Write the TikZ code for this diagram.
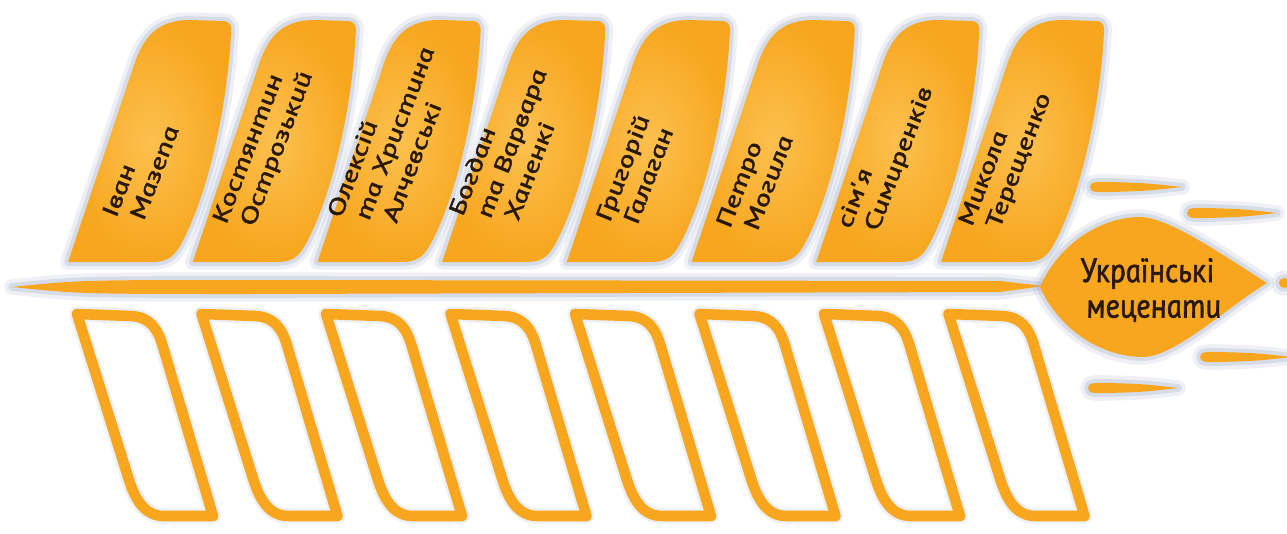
\documentclass[tikz,border=0pt]{standalone}
\usepackage{fontspec}
\newfontfamily\leaffont{PT Sans}[ItalicFeatures={FakeBold=2}]
\usepackage{tikz}
\usetikzlibrary{positioning}
\definecolor{leaforange}{RGB}{247,166,30}
\definecolor{leaflight}{RGB}{252,192,78}
\definecolor{glowblue}{RGB}{160,172,200}
\definecolor{inkbrown}{RGB}{40,25,10}

\begin{document}
\begin{tikzpicture}[x=0.025cm, y=-0.025cm,
  glow/.style={preaction={draw=glowblue, line width=11pt, opacity=.18, line join=round},
               preaction={draw=glowblue, line width=5.5pt, opacity=.3, line join=round}},
  topleaf/.style={glow, inner color=leaflight, outer color=leaforange},
  lowleaf/.style={preaction={fill=white}, glow, draw=leaforange, line width=7.5pt, line join=round},
  spark/.style={glow, fill=leaforange},
  leaftext/.style={align=left, inner sep=0pt, text=inkbrown, rotate=69, xscale=1.4, xslant=-0.2,
                   font=\leaffont\itshape\fontsize{16}{19}\selectfont},
  hubtext/.style={align=center, inner sep=0pt, text=inkbrown, xscale=1.1, yscale=1.2, xslant=-0.2,
                  font=\leaffont\itshape\fontsize{20}{21}\selectfont},
]
\useasboundingbox (0,0) rectangle (1287,533);

% Upper leaves
\foreach \i in {0,...,7}{
  \begin{scope}[shift={(\i*124.7,0)}]
    \path[topleaf] (68,262) -- (135,62) .. controls (145,34) and (160,20) .. (190,20)
      -- (224,21) .. controls (231,22) and (232,27) .. (231,34)
      .. controls (227,110) and (207,198) .. (180,246)
      .. controls (173,258) and (166,262) .. (152,262) -- cycle;
  \end{scope}
}

% Lower leaves
\foreach \i in {0,...,7}{
  \begin{scope}[shift={(\i*124.5,0)}]
    \path[lowleaf] (77,314) -- (131,316) .. controls (150,317) and (158,329) .. (163,347)
      -- (213,516) -- (164,516) .. controls (146,516) and (136,502) .. (129,480) -- cycle;
  \end{scope}
}

% Stem
\path[spark] (12,287) .. controls (80,280) .. (250,280) -- (1000,281) -- (1044,286)
  -- (1000,292) -- (250,294) .. controls (80,294) .. (12,287) -- cycle;

% Hub
\path[spark] (1040,287) .. controls (1058,245) and (1100,217) .. (1140,217)
  .. controls (1170,217) and (1230,260) .. (1267,283)
  .. controls (1230,305) and (1175,357) .. (1143,357)
  .. controls (1100,357) and (1058,328) .. (1040,287) -- cycle;

% Sparks
\foreach \xa/\xb/\y in {1090/1182/187, 1187/1277/213, 1200/1292/357, 1088/1178/388}{
  \path[spark] (\xa,\y) .. controls (\xa,\y-6) and (\xa+8,\y-5) .. (\xa+20,\y-5)
    .. controls (\xa+55,\y-4) .. (\xb,\y) .. controls (\xa+55,\y+4) .. (\xa+20,\y+5)
    .. controls (\xa+8,\y+5) and (\xa,\y+6) .. (\xa,\y) -- cycle;
}
\path[spark] (1284,283) circle[radius=5];

% Names
\node[leaftext] (mazepa) at (140,172) {Іван\\Мазепа};
\node[leaftext] (ostrozkyi) at (264,148) {Костянтин\\Острозький};
\node[leaftext] (alchevski) at (394,134) {Олексій\\та Христина\\Алчевські};
\node[leaftext] (khanenki) at (511,144) {Богдан\\та Варвара\\Ханенкі};
\node[leaftext] (halahan) at (636,170) {Григорій\\Галаган};
\node[leaftext] (mohyla) at (754,182) {Петро\\Могила};
\node[leaftext] (symyrenko) at (886,158) {сім'я\\Симиренків};
\node[leaftext] (tereshchenko) at (1006,160) {Микола\\Терещенко};
\node[hubtext] (hub) at (1150,290) {Українські\\меценати};
\end{tikzpicture}
\end{document}
